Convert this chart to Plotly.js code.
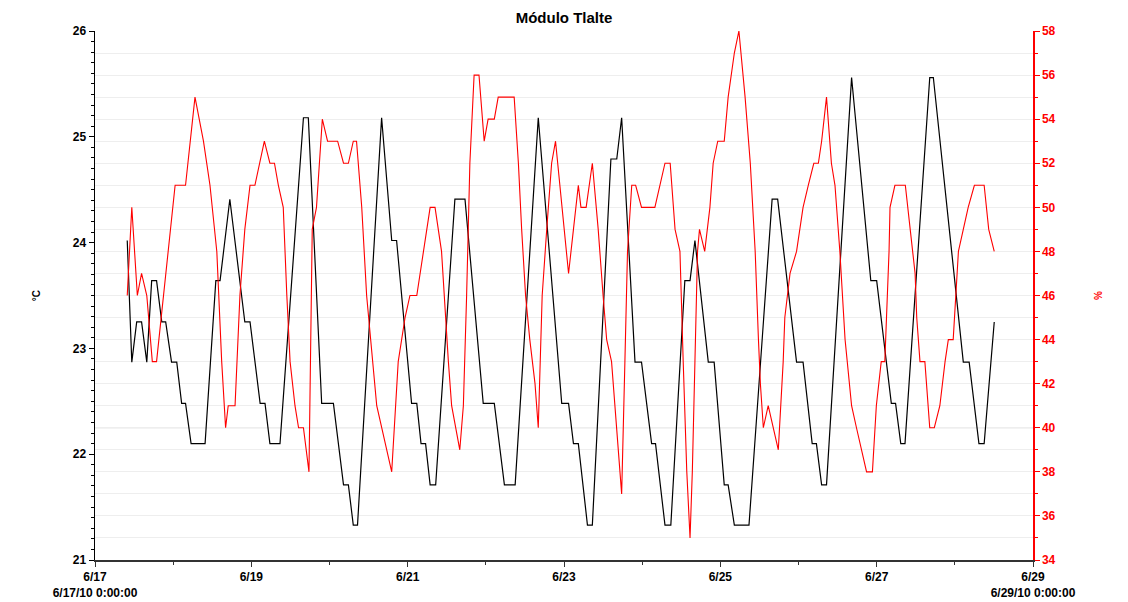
<!DOCTYPE html>
<html>
<head>
<meta charset="utf-8">
<script src="https://cdn.plot.ly/plotly-3.0.1.min.js"></script>
<style>
  html, body { margin: 0; padding: 0; background: #fff; }
  #chart { width: 1128px; height: 602px; }
</style>
</head>
<body>
<div id="chart"></div>
<script>
// Hours since 2010-06-17 00:00 and readings (vertices)
const tempHours = [9.9, 10.3, 11.3, 12.8, 14.3, 15.9, 17.4, 18.9, 20.5, 21.7, 23.5, 25.1, 26.6, 27.8, 29.5, 33.8, 37.1, 38.4, 41.4,
  46.0, 47.6, 50.7, 52.2, 53.7, 56.8, 64.0, 65.5, 69.6, 73.2, 76.3, 77.8, 79.3, 80.6, 88.0, 91.1, 92.6, 97.2, 98.8,
  100.1, 101.5, 102.9, 104.6, 110.5, 113.6, 119.2, 122.6, 125.7, 129.0, 136.1, 143.3, 145.4, 146.9, 148.4, 151.2, 152.7,
  158.4, 160.2, 161.7, 165.8, 167.8, 170.9, 172.1, 175.0, 176.8, 181.1, 182.7, 184.2, 188.3, 190.1, 193.2, 194.4,
  196.3, 200.8, 207.9, 209.6, 215.4, 217.4, 220.2, 221.5, 223.1, 224.6, 232.3, 238.2, 240.0, 244.5, 245.8, 247.4, 248.7,
  256.3, 257.4, 266.6, 268.4, 271.4, 273.0, 276.1];
const tempValues = [24.02, 23.64, 22.87, 23.25, 23.25, 22.87, 23.64, 23.64, 23.25, 23.25, 22.87, 22.87, 22.48, 22.48, 22.1, 22.1, 23.64, 23.64, 24.41,
  23.25, 23.25, 22.48, 22.48, 22.1, 22.1, 25.18, 25.18, 22.48, 22.48, 21.71, 21.71, 21.33, 21.33, 25.18, 24.02, 24.02, 22.48, 22.48,
  22.1, 22.1, 21.71, 21.71, 24.41, 24.41, 22.48, 22.48, 21.71, 21.71, 25.18, 22.48, 22.48, 22.1, 22.1, 21.33, 21.33,
  24.79, 24.79, 25.18, 22.87, 22.87, 22.1, 22.1, 21.33, 21.33, 23.64, 23.64, 24.02, 22.87, 22.87, 21.71, 21.71,
  21.33, 21.33, 24.41, 24.41, 22.87, 22.87, 22.1, 22.1, 21.71, 21.71, 25.56, 23.64, 23.64, 22.48, 22.48, 22.1, 22.1,
  25.56, 25.56, 22.87, 22.87, 22.1, 22.1, 23.25];

const humHours = [9.9, 11.3, 13.0, 14.3, 15.9, 17.6, 18.9, 24.6, 27.8, 30.7, 33.3, 35.3, 37.4, 38.9, 40.1, 40.9, 43.0, 44.5, 46.0,
  47.6, 49.1, 52.0, 53.7, 55.1, 56.3, 57.8, 58.9, 59.9, 61.4, 62.5, 64.0, 65.7, 66.7, 68.0, 69.8, 71.4, 74.5, 76.3, 77.8,
  79.3, 80.3, 81.9, 83.4, 86.5, 91.1, 93.1, 95.2, 96.7, 98.8, 102.9, 104.4, 106.4, 108.5, 109.5, 112.0, 113.1, 114.1, 115.1,
  116.4, 117.9, 119.5, 120.7, 122.6, 123.8, 128.7, 130.0, 131.0, 132.2, 133.5, 135.1, 136.1, 137.3, 138.7, 140.2, 141.4,
  143.3, 145.4, 146.9, 148.4, 149.2, 150.8, 152.7, 154.5, 156.0, 157.1, 158.6, 160.2, 161.7, 162.7, 163.5, 164.8, 166.0,
  167.8, 171.9, 175.0, 176.6, 178.1, 179.6, 180.6, 181.7, 182.7, 183.4, 184.2, 185.0, 185.6, 187.2, 188.8, 189.8, 191.2,
  193.2, 194.4, 196.3, 197.7, 199.6, 201.2, 202.7, 203.7, 204.3, 205.2, 206.7, 209.8, 211.3, 211.8, 213.4, 215.4, 217.4,
  219.0, 220.7, 222.1, 223.1, 224.6, 226.1, 227.2, 228.7, 230.3, 232.3, 233.8, 236.9, 238.7, 239.9, 241.4, 242.5, 243.8,
  244.1, 245.6, 248.8, 250.3, 251.8, 252.3, 253.3, 254.8, 256.3, 257.7, 259.4, 261.0, 262.0, 263.5, 265.1, 266.6, 268.1,
  270.0, 273.0, 274.4, 276.1];
const humValues = [46, 50, 46, 47, 46, 43, 43, 51, 51, 55, 53, 51, 48, 43, 40, 41, 41, 46, 49,
  51, 51, 53, 52, 52, 51, 50, 46, 43, 41, 40, 40, 38, 49, 50, 54, 53, 53, 52, 52,
  53, 53, 50, 46, 41, 38, 43, 45, 46, 46, 50, 50, 48, 43, 41, 39, 41, 46, 52,
  56, 56, 53, 54, 54, 55, 55, 52, 49, 46, 44, 42, 40, 46, 49, 52, 53,
  50, 47, 49, 51, 50, 50, 52, 49, 46, 44, 43, 40, 37, 43, 48, 51, 51,
  50, 50, 52, 52, 49, 48, 43, 38, 35, 38, 43, 48, 49, 48, 50, 52, 53,
  53, 55, 57, 58, 55, 52, 48, 44, 42, 40, 41, 39, 43, 45, 47, 48, 50,
  51, 52, 52, 53, 55, 52, 51, 48, 44, 41, 40, 38, 38, 41, 43, 43, 48,
  50, 51, 51, 49, 47, 45, 43, 43, 40, 40, 41, 43, 44, 44, 48, 49, 50,
  51, 51, 49, 48];

const tickDates = ['2010-06-17', '2010-06-19', '2010-06-21', '2010-06-23', '2010-06-25', '2010-06-27', '2010-06-29'];
const tickLabels = ['6/17<br>6/17/10 0:00:00', '6/19', '6/21', '6/23', '6/25', '6/27', '6/29<br>6/29/10 0:00:00'];

// slightly darker horizontal reference gridline on the % axis
const humReferenceLevel = 40;

const chartTitle = 'Módulo Tlalte';
const leftTitle = '°C';
const rightTitle = '%';

function toDate(h) {
  const ms = Date.UTC(2010, 5, 17) + Math.round(h * 3600000);
  return new Date(ms).toISOString().slice(0, 19).replace('T', ' ');
}

const FONT = 'Liberation Sans, Arial, Helvetica, sans-serif';

const traces = [
  {
    x: tempHours.map(toDate), y: tempValues, type: 'scatter', mode: 'lines',
    line: { color: '#000000', width: 1.2 }, yaxis: 'y', name: '°C', showlegend: false
  },
  {
    x: humHours.map(toDate), y: humValues, type: 'scatter', mode: 'lines',
    line: { color: '#ff0000', width: 1.1 }, yaxis: 'y2', name: '%', showlegend: false
  }
];

const layout = {
  width: 1128, height: 602,
  margin: { l: 95, r: 95, t: 31, b: 42 },
  paper_bgcolor: '#ffffff', plot_bgcolor: '#ffffff',
  showlegend: false,
  font: { family: FONT, size: 12, color: '#000' },
  title: {
    text: '<b>' + chartTitle + '</b>',
    font: { family: FONT, size: 15, color: '#000' },
    x: 0.5, xanchor: 'center', y: 0.97, yanchor: 'middle'
  },
  xaxis: {
    type: 'date',
    range: ['2010-06-17', '2010-06-29'],
    tickmode: 'array', tickvals: tickDates, ticktext: tickLabels,
    ticks: 'outside', ticklen: 5, tickcolor: '#333', tickwidth: 1,
    showline: true, linecolor: '#333', linewidth: 1.5,
    showgrid: false, zeroline: false,
    tickfont: { family: FONT, size: 12, color: '#000', weight: 'bold' },
    minor: { dtick: 86400000, ticks: 'outside', ticklen: 3, tickcolor: '#333', showgrid: false }
  },
  yaxis: {
    range: [21, 26], dtick: 1, tick0: 21,
    ticks: 'outside', ticklen: 5, tickcolor: '#000', tickwidth: 1,
    showline: true, linecolor: '#000', linewidth: 1.5,
    showgrid: false, zeroline: false,
    tickfont: { family: FONT, size: 12, color: '#000', weight: 'bold' },
    minor: { dtick: 0.1, ticks: 'outside', ticklen: 3, tickcolor: '#000', showgrid: false },
    title: { text: '<b>' + leftTitle + '</b>', font: { family: FONT, size: 10, color: '#000' }, standoff: 30 }
  },
  yaxis2: {
    overlaying: 'y', side: 'right',
    range: [34, 58], dtick: 2, tick0: 34,
    ticks: 'outside', ticklen: 5, tickcolor: '#ff0000', tickwidth: 1,
    showline: true, linecolor: '#ff0000', linewidth: 1.5,
    showgrid: true, gridcolor: '#eeeeee', gridwidth: 1,
    zeroline: false,
    tickfont: { family: FONT, size: 12, color: '#ff0000', weight: 'bold' },
    minor: { dtick: 1, ticks: 'outside', ticklen: 3, tickcolor: '#ff0000', showgrid: true, gridcolor: '#eeeeee' },
    title: { text: '<b>' + rightTitle + '</b>', font: { family: FONT, size: 10, color: '#ff0000' }, standoff: 40 }
  },
  shapes: [
    {
      type: 'line', layer: 'below', xref: 'paper', x0: 0, x1: 1,
      yref: 'y2', y0: humReferenceLevel, y1: humReferenceLevel,
      line: { color: '#cfcfcf', width: 1 }
    }
  ]
};

Plotly.newPlot('chart', traces, layout, { displayModeBar: false, staticPlot: true });
</script>
</body>
</html>
